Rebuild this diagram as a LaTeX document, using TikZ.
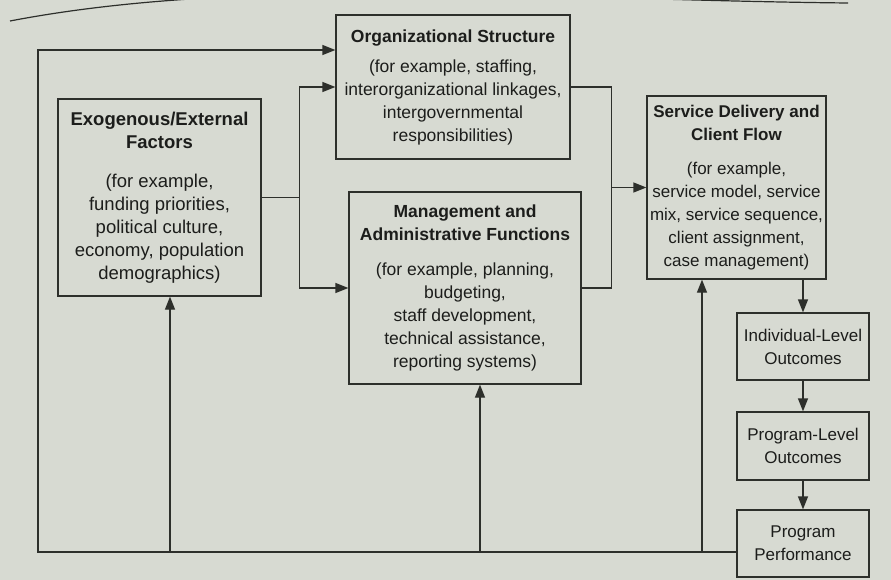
\documentclass[tikz,border=0pt]{standalone}
\usepackage{fontspec}
\setmainfont{Liberation Sans}
\usepackage{tikz}
\usetikzlibrary{arrows.meta}

\begin{document}
\begin{tikzpicture}[x=1pt,y=-1pt,
	box/.style={draw=custcol_line, line width=1.3pt, align=center, inner sep=2pt, text=custcol_text, font=\fontsize{17.5pt}{23pt}\selectfont},
	small/.style={font=\fontsize{17pt}{23pt}\selectfont},
	wire/.style={draw=custcol_line, line width=1.3pt},
	flow/.style={wire, -{Triangle[length=13pt,width=10pt]}}]
	\definecolor{custcol_paper}{RGB}{215, 218, 210}
	\definecolor{custcol_line}{RGB}{45, 47, 43}
	\definecolor{custcol_text}{RGB}{28, 29, 27}
	\fill [custcol_paper] (0,0) rectangle (891,580);
	\useasboundingbox (0,0) rectangle (891,580);
	\begin{scope}
		\clip (0,0) rectangle (891,580);
		\draw [custcol_line, line width=1.2pt] (10,21) .. controls (250,-25) and (550,0) .. (848,3); % page rule
	\end{scope}

	% boxes
	\node [box, minimum width=234pt, minimum height=144pt] (org) at (453,87) {\textbf{Organizational Structure}\\[7pt](for example, staffing,\\interorganizational linkages,\\intergovernmental\\responsibilities)};
	\node [box, font=\fontsize{18.5pt}{23pt}\selectfont, minimum width=203pt, minimum height=197pt] (exo) at (159.5,197.5) {\textbf{Exogenous/External}\\\textbf{Factors}\\[16pt](for example,\\funding priorities,\\political culture,\\economy, population\\demographics)};
	\node [box, minimum width=232pt, minimum height=192pt] (mgmt) at (465,288) {\textbf{Management and}\\\textbf{Administrative Functions}\\[12pt](for example, planning,\\budgeting,\\staff development,\\technical assistance,\\reporting systems)};
	\node [box, small, minimum width=179pt, minimum height=183pt] (svc) at (736.5,187.5) {\textbf{Service Delivery and}\\\textbf{Client Flow}\\[11pt](for example,\\service model, service\\mix, service sequence,\\client assignment,\\case management)};
	\node [box, small, minimum width=132pt, minimum height=67pt] (indiv) at (803,346.5) {Individual-Level\\Outcomes};
	\node [box, small, minimum width=132pt, minimum height=68pt] (progl) at (803,446) {Program-Level\\Outcomes};
	\node [box, small, minimum width=132pt, minimum height=67pt] (perf) at (803,543.5) {Program\\Performance};

	% junctions
	\path (exo.east) ++(38,0) coordinate (jl);
	\path (svc.west) ++(-35,0) coordinate (jr);
	\coordinate (bl) at (38,552);
	\coordinate (tl) at (38,50);
	\coordinate (u1) at (170,552);
	\coordinate (u2) at (480,552);
	\coordinate (u3) at (702,552);

	\draw [wire] (exo.east) -- (jl);
	\draw [flow] (jl) |- (org.west);
	\draw [flow] (jl) |- (mgmt.west);
	\draw [wire] (org.east) -| (jr);
	\draw [wire] (mgmt.east) -| (jr);
	\draw [flow] (jr) -- (svc.west);
	\draw [flow] (svc.south -| indiv.north) -- (indiv.north);
	\draw [flow] (indiv.south) -- (progl.north);
	\draw [flow] (progl.south) -- (perf.north);

	% feedback loop
	\draw [flow] (perf.west |- bl) -- (bl) -- (tl) -- (tl -| org.west);
	\draw [flow] (u1) -- (u1 |- exo.south);
	\draw [flow] (u2) -- (u2 |- mgmt.south);
	\draw [flow] (u3) -- (u3 |- svc.south);
\end{tikzpicture}
\end{document}
